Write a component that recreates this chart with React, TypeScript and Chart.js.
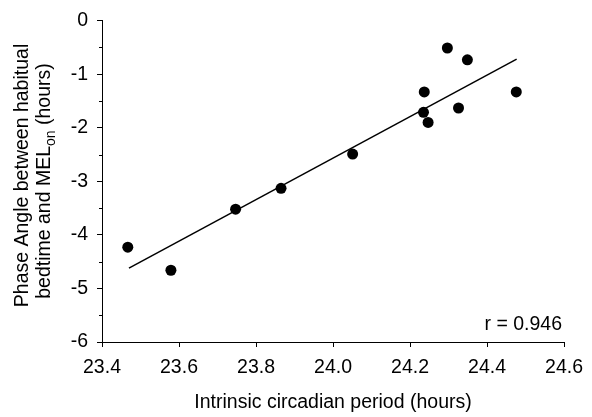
import React, { useEffect, useRef } from "react";
import { Chart, registerables } from "chart.js";

Chart.register(...registerables);

const periodHours = [23.467, 23.579, 23.747, 23.865, 24.051, 24.235, 24.237, 24.247, 24.297, 24.326, 24.349, 24.476];
const phaseAngle = [-4.23, -4.66, -3.52, -3.13, -2.49, -1.71, -1.33, -1.9, -0.51, -1.63, -0.73, -1.33];
const fitX = [23.47, 24.477];
const fitY = [-4.62, -0.716];
const xTicks = [23.4, 23.6, 23.8, 24.0, 24.2, 24.4, 24.6];
const yMinorTicks = [-5.5, -4.5, -3.5, -2.5, -1.5, -0.5];
const xTitle = "Intrinsic circadian period (hours)";
const yTitleLine1 = "Phase Angle between habitual";
const yTitleLine2a = "bedtime and MEL";
const yTitleSub = "on";
const yTitleLine2b = " (hours)";
const rLabel = "r = 0.946";

const FAMILY = "'Liberation Sans', Arial, Helvetica, sans-serif";
const FS = 19.5;

const extrasPlugin = {
  id: "extras",
  afterDraw(chart: any) {
    const { ctx, chartArea, scales } = chart;
    const y = scales.y;
    ctx.save();
    // minor ticks
    ctx.strokeStyle = "#000";
    ctx.lineWidth = 1;
    for (const v of yMinorTicks) {
      const py = Math.round(y.getPixelForValue(v)) + 0.5;
      ctx.beginPath();
      ctx.moveTo(chartArea.left - 3, py);
      ctx.lineTo(chartArea.left, py);
      ctx.stroke();
    }
    // r label
    ctx.fillStyle = "#000";
    ctx.font = `${FS}px ${FAMILY}`;
    ctx.textAlign = "right";
    ctx.textBaseline = "alphabetic";
    ctx.fillText(rLabel, chartArea.right - 2, chartArea.bottom - 12);

    // y title (rotated, with subscript)
    const mainFont = `${FS}px ${FAMILY}`;
    const subFont = `${14}px ${FAMILY}`;
    ctx.textAlign = "left";
    // line 1
    ctx.save();
    ctx.translate(27.5, 175.5);
    ctx.rotate(-Math.PI / 2);
    ctx.font = mainFont;
    const w1 = ctx.measureText(yTitleLine1).width;
    ctx.fillText(yTitleLine1, -w1 / 2, 0);
    ctx.restore();
    // line 2
    ctx.save();
    ctx.translate(49.5, 181);
    ctx.rotate(-Math.PI / 2);
    ctx.font = mainFont;
    const wa = ctx.measureText(yTitleLine2a).width;
    const wb = ctx.measureText(yTitleLine2b).width;
    ctx.font = subFont;
    const ws = ctx.measureText(yTitleSub).width;
    const total = wa + ws + wb;
    let x = -total / 2;
    ctx.font = mainFont;
    ctx.fillText(yTitleLine2a, x, 0);
    x += wa;
    ctx.font = subFont;
    ctx.fillText(yTitleSub, x, 5);
    x += ws;
    ctx.font = mainFont;
    ctx.fillText(yTitleLine2b, x, 0);
    ctx.restore();
    ctx.restore();
  },
};

export default function App() {
  const ref = useRef<HTMLCanvasElement | null>(null);
  useEffect(() => {
    if (!ref.current) return;
    const chart = new Chart(ref.current, {
      type: "scatter",
      data: {
        datasets: [
          {
            type: "line",
            data: fitX.map((x, i) => ({ x, y: fitY[i] })),
            borderColor: "#000",
            borderWidth: 1.5,
            pointRadius: 0,
            fill: false,
          } as any,
          {
            type: "scatter",
            data: periodHours.map((x, i) => ({ x, y: phaseAngle[i] })),
            backgroundColor: "#000",
            borderColor: "#000",
            borderWidth: 0,
            pointRadius: 5.5,
            pointHoverRadius: 5.5,
          },
        ],
      },
      options: {
        animation: false,
        responsive: false,
        events: [],
        layout: { padding: { top: 15, right: 22, left: 0, bottom: 0 } },
        plugins: { legend: { display: false }, tooltip: { enabled: false } },
        scales: {
          x: {
            type: "linear",
            min: 23.4,
            max: 24.6,
            afterBuildTicks: (s: any) => {
              s.ticks = xTicks.map((v) => ({ value: v }));
            },
            afterFit: (s: any) => {
              s.height = 75;
            },
            ticks: {
              color: "#000",
              font: { family: FAMILY, size: FS },
              padding: 9,
              maxRotation: 0,
              autoSkip: false,
              callback: (v: any) => Number(v).toFixed(1),
            },
            grid: {
              drawOnChartArea: false,
              drawTicks: true,
              tickLength: 5,
              tickColor: "#000",
              tickWidth: 1,
            },
            border: { display: true, color: "#000", width: 1 },
            title: {
              display: true,
              text: xTitle,
              color: "#000",
              font: { family: FAMILY, size: FS },
              padding: { top: 0, bottom: 3 },
            },
          },
          y: {
            type: "linear",
            min: -6,
            max: 0,
            afterFit: (s: any) => {
              s.width = 102;
            },
            ticks: {
              stepSize: 0.5,
              color: "#000",
              font: { family: FAMILY, size: FS },
              padding: 9,
              autoSkip: false,
              callback: (v: any) => (Number.isInteger(Number(v)) ? String(Number(v) === 0 ? 0 : v) : ""),
            },
            grid: {
              drawOnChartArea: false,
              drawTicks: true,
              tickLength: 5,
              tickColor: (c: any) => (c.tick && Number.isInteger(c.tick.value) ? "#000" : "rgba(0,0,0,0)"),
              tickWidth: 1,
            },
            border: { display: true, color: "#000", width: 1 },
          },
        },
      },
      plugins: [extrasPlugin],
    } as any);
    return () => chart.destroy();
  }, []);
  return (
    <canvas
      ref={ref}
      width={592}
      height={417}
      style={{ position: "absolute", left: 0, top: 0, width: 592, height: 417, display: "block" }}
    />
  );
}
